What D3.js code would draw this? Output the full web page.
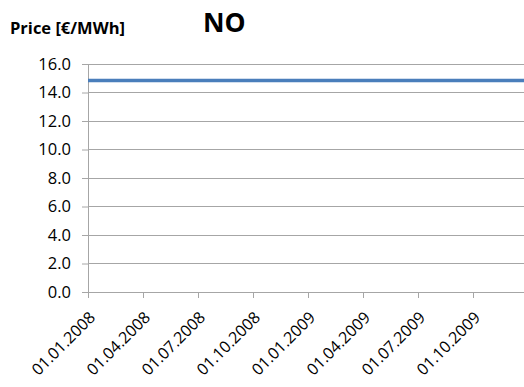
<!DOCTYPE html>
<html>
<head>
<meta charset="utf-8">
<script src="https://cdn.jsdelivr.net/npm/d3@7"></script>
<style>
  html, body { margin: 0; padding: 0; background: #fff; overflow: hidden; }
  svg { display: block; }
  text { font-family: "Open Sans", "Noto Sans", sans-serif; fill: #000; }
</style>
</head>
<body>
<svg id="chart" width="524" height="387"></svg>
<script>
// Monthly system price, Norway area (NO)
const months = [
  "01.01.2008","01.02.2008","01.03.2008","01.04.2008","01.05.2008","01.06.2008",
  "01.07.2008","01.08.2008","01.09.2008","01.10.2008","01.11.2008","01.12.2008",
  "01.01.2009","01.02.2009","01.03.2009","01.04.2009","01.05.2009","01.06.2009",
  "01.07.2009","01.08.2009","01.09.2009","01.10.2009","01.11.2009","01.12.2009",
  "01.01.2010"
];
const prices = [
  14.85,14.85,14.85,14.85,14.85,14.85,14.85,14.85,14.85,14.85,14.85,14.85,
  14.85,14.85,14.85,14.85,14.85,14.85,14.85,14.85,14.85,14.85,14.85,14.85,
  14.85
];
const xTickLabels = ["01.01.2008","01.04.2008","01.07.2008","01.10.2008",
                     "01.01.2009","01.04.2009","01.07.2009","01.10.2009"];
const yTicks = [0, 2, 4, 6, 8, 10, 12, 14, 16];

const svg = d3.select("#chart");
const plotLeft = 88, plotTop = 64, plotBottom = 292, plotRight = 528;

const x = d3.scalePoint().domain(months).range([plotLeft, plotRight]);
const y = d3.scaleLinear().domain([0, 16]).range([plotBottom, plotTop]);

// horizontal gridlines
svg.append("g")
  .selectAll("line")
  .data(yTicks.filter(d => d > 0))
  .join("line")
  .attr("x1", plotLeft).attr("x2", 524)
  .attr("y1", d => y(d)).attr("y2", d => y(d))
  .attr("stroke", "#a6a6a6").attr("stroke-width", 1)
  .attr("shape-rendering", "crispEdges");

// y axis
const yAxis = svg.append("g")
  .attr("transform", `translate(${plotLeft},0)`)
  .call(d3.axisLeft(y).tickValues(yTicks).tickFormat(d3.format(".1f")).tickSize(6).tickPadding(11));
yAxis.select(".domain").attr("stroke", "#a6a6a6");
yAxis.selectAll(".tick line").attr("stroke", "#a6a6a6");
yAxis.selectAll("text").style("font-size", "16.5px").attr("fill", "#000");

// x axis
const xAxis = svg.append("g")
  .attr("transform", `translate(0,${plotBottom})`)
  .call(d3.axisBottom(x).tickValues(xTickLabels).tickSize(6).tickSizeOuter(0));
xAxis.select(".domain").attr("stroke", "#a6a6a6");
xAxis.selectAll(".tick line").attr("stroke", "#a6a6a6");
xAxis.selectAll("text")
  .style("font-size", "16px")
  .attr("fill", "#000")
  .attr("text-anchor", "end")
  .attr("dy", null)
  .attr("transform", "translate(-2,17) rotate(-45)")
  .attr("y", 0).attr("x", 0)
  .attr("dominant-baseline", "hanging");

// price line
svg.append("path")
  .datum(prices)
  .attr("fill", "none")
  .attr("stroke", "#4a7ebb")
  .attr("stroke-width", 3.5)
  .attr("d", d3.line().x((d, i) => x(months[i])).y(d => y(d)));

// titles
svg.append("text")
  .attr("x", 10).attr("y", 34)
  .style("font-size", "16.5px").style("font-weight", "bold")
  .text("Price [€/MWh]");
svg.append("text")
  .attr("x", 203).attr("y", 32)
  .style("font-size", "26.5px").style("font-weight", "bold")
  .text("NO");
</script>
</body>
</html>
